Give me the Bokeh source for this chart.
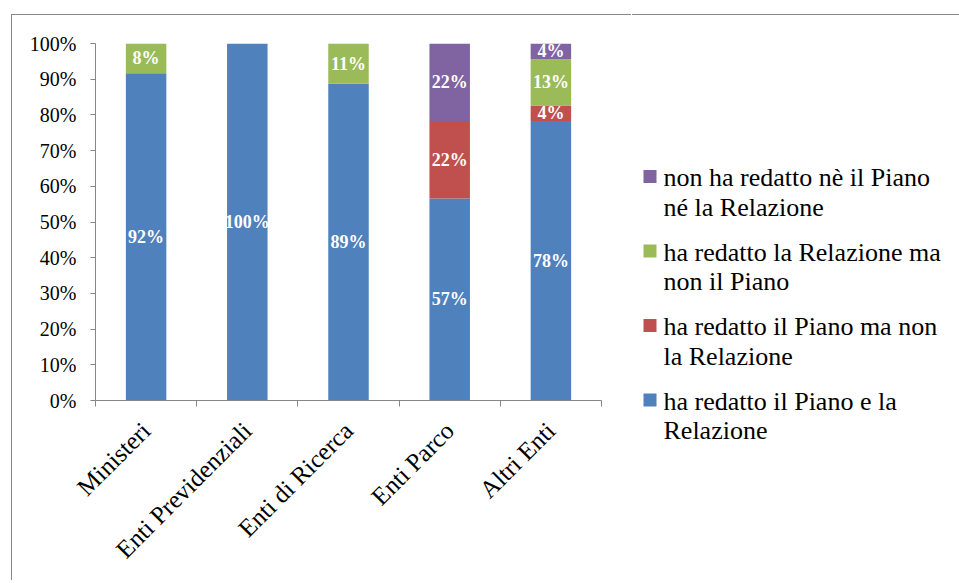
import math
from bokeh.plotting import figure
from bokeh.models import (ColumnDataSource, FixedTicker, NumeralTickFormatter, Range1d)
from bokeh.core.properties import value
from bokeh.embed import file_html
from bokeh.resources import INLINE

# ---------------- data ----------------
categories = ["Ministeri", "Enti Previdenziali", "Enti di Ricerca", "Enti Parco", "Altri Enti"]
piano_e_relazione = [0.917, 1.0, 0.887, 0.566, 0.783]
piano_no_relazione = [0.0, 0.0, 0.0, 0.217, 0.043]
relazione_no_piano = [0.083, 0.0, 0.113, 0.0, 0.130]
nessuno = [0.0, 0.0, 0.0, 0.217, 0.044]

series_keys = ["pr", "pnr", "rnp", "none"]
series_label_line1 = [
    "ha redatto il Piano e la",
    "ha redatto il Piano ma non",
    "ha redatto la Relazione ma",
    "non ha redatto nè il Piano",
]
series_label_line2 = [
    "Relazione",
    "la Relazione",
    "non il Piano",
    "né la Relazione",
]
colors = ["#4F81BD", "#C0504D", "#9BBB59", "#8064A2"]
series_values = [piano_e_relazione, piano_no_relazione, relazione_no_piano, nessuno]
y_tick_values = [0.0, 0.1, 0.2, 0.3, 0.4, 0.5, 0.6, 0.7, 0.8, 0.9, 1.0]

FONT = "Liberation Serif"
GRAY = "#868686"

xs = [i + 0.5 for i in range(len(categories))]
data = {"x": xs}
for k, v in zip(series_keys, series_values):
    data[k] = v
src = ColumnDataSource(data)

# labels in the middle of each segment
lx, ly, lt = [], [], []
for i, x in enumerate(xs):
    base = 0.0
    for vals in series_values:
        v = vals[i]
        if v > 0:
            lx.append(x)
            ly.append(base + v / 2)
            lt.append(f"{round(v * 100)}%")
        base += v
lsrc = ColumnDataSource(dict(x=lx, y=ly, t=lt))

# ---------------- chart ----------------
p = figure(width=620, height=566,
           x_range=Range1d(0, len(categories)), y_range=Range1d(0, 1),
           output_backend="svg", toolbar_location=None,
           min_border_left=83, min_border_right=31,
           min_border_top=28, min_border_bottom=181)
p.styles = {"margin-left": "11px", "margin-top": "14px",
            "border-left": f"1px solid {GRAY}", "border-top": f"1px solid {GRAY}"}
p.outline_line_color = None
p.xgrid.visible = False
p.ygrid.visible = False

rs = p.vbar_stack(series_keys, x="x", width=0.4, source=src,
                  color=colors, line_color=None)

p.text(x="x", y="y", text="t", source=lsrc, text_color="white",
       text_font=value(FONT), text_font_style="bold", text_font_size="18px",
       text_align="center", text_baseline="middle")

xa = p.xaxis[0]
xa.ticker = FixedTicker(ticks=xs, minor_ticks=list(range(len(categories) + 1)))
xa.major_label_overrides = {x: c for x, c in zip(xs, categories)}
xa.major_tick_in = 0
xa.major_tick_out = 0
xa.minor_tick_in = 0
xa.minor_tick_out = 6
xa.minor_tick_line_color = GRAY
xa.axis_line_color = GRAY
xa.major_label_orientation = math.pi / 4
xa.major_label_text_font = FONT
xa.major_label_text_font_size = "25px"
xa.major_label_text_color = "black"
xa.major_label_standoff = 20

ya = p.yaxis[0]
ya.ticker = FixedTicker(ticks=y_tick_values)
ya.formatter = NumeralTickFormatter(format="0%")
ya.major_tick_in = 0
ya.major_tick_out = 5
ya.minor_tick_line_color = None
ya.major_tick_line_color = GRAY
ya.axis_line_color = GRAY
ya.major_label_text_font = FONT
ya.major_label_text_font_size = "20px"
ya.major_label_text_color = "black"
ya.major_label_standoff = 14

# ---------------- legend panel (separate root, placed to the right) ----------------
LW, LH = 327, 566
lg = figure(width=LW, height=LH, x_range=Range1d(0, LW), y_range=Range1d(LH, 0),
            output_backend="svg", toolbar_location=None,
            x_axis_location=None, y_axis_location=None, min_border=0)
lg.styles = {"position": "absolute", "left": "632px", "top": "14px",
             "border-top": f"1px solid {GRAY}"}
lg.outline_line_color = None
lg.grid.visible = False

SW_X, TXT_X = 17.5, 31
FIRST_BASE, PITCH, LINE_GAP = 162, 74.5, 29.5
order = list(range(len(series_keys)))[::-1]
base1 = [FIRST_BASE + j * PITCH for j in range(len(order))]
leg_src = ColumnDataSource(dict(
    sx=[SW_X] * len(order), sy=[b - 1 for b in base1],
    tx=[TXT_X] * len(order), y1=base1, y2=[b + LINE_GAP for b in base1],
    c=[colors[i] for i in order],
    t1=[series_label_line1[i] for i in order],
    t2=[series_label_line2[i] for i in order]))
lg.scatter(x="sx", y="sy", marker="square", size=13, color="c", line_color=None, source=leg_src)
for col, ycol in (("t1", "y1"), ("t2", "y2")):
    lg.text(x="tx", y=ycol, text=col, source=leg_src,
            text_font=value(FONT), text_font_size="26px", text_color="black",
            text_align="left", text_baseline="alphabetic")

open("out.html", "w").write(file_html([p, lg], INLINE))
